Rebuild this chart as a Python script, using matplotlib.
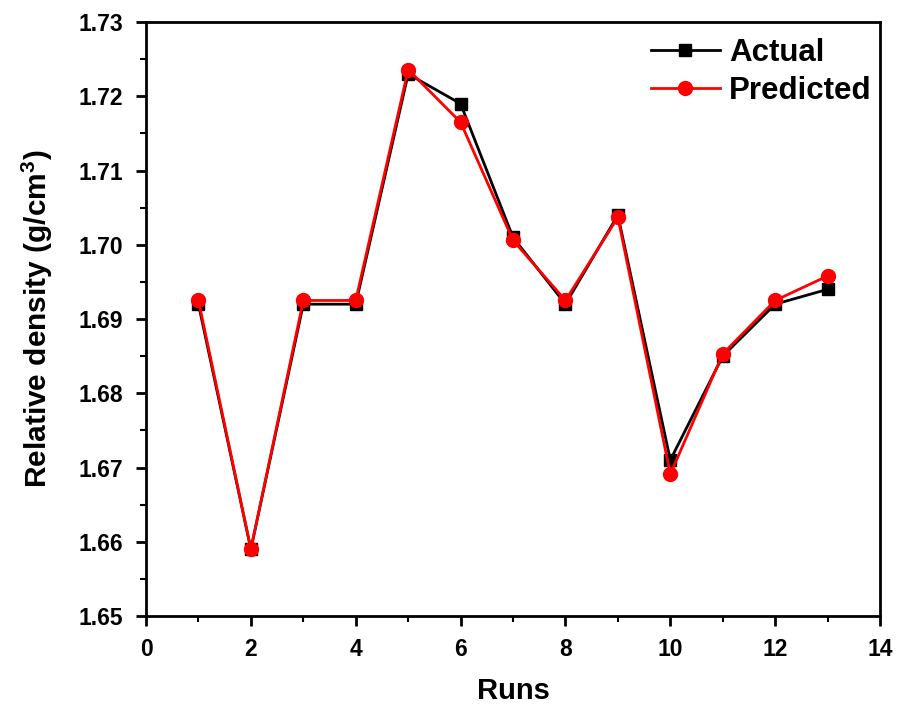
import matplotlib
matplotlib.use("Agg")
import matplotlib.pyplot as plt
from matplotlib.ticker import MultipleLocator

runs = [1, 2, 3, 4, 5, 6, 7, 8, 9, 10, 11, 12, 13]
actual = [1.692, 1.659, 1.692, 1.692, 1.723, 1.719, 1.701, 1.692, 1.704, 1.671, 1.685, 1.692, 1.694]
predicted = [1.6925, 1.659, 1.6925, 1.6925, 1.7236, 1.7165, 1.7006, 1.6925, 1.7037, 1.6691, 1.6853, 1.6925, 1.6958]

plt.rcParams['font.family'] = ['Liberation Sans', 'DejaVu Sans']
plt.rcParams['font.weight'] = 'bold'
plt.rcParams['mathtext.fontset'] = 'custom'
plt.rcParams['mathtext.bf'] = 'Liberation Sans:bold'

fig = plt.figure(figsize=(8.98, 7.11), dpi=100)
ax = fig.add_axes([0.1626, 0.1336, 0.8174, 0.8354])

ax.plot(runs, actual, color='black', lw=2, marker='s', ms=8, label='Actual')
ax.plot(runs, predicted, color='red', lw=2, marker='o', ms=10, label='Predicted')

ax.set_xlim(0, 14)
ax.set_ylim(1.65, 1.73)
ax.xaxis.set_major_locator(MultipleLocator(2))
ax.xaxis.set_minor_locator(MultipleLocator(1))
ax.yaxis.set_major_locator(MultipleLocator(0.01))
ax.yaxis.set_minor_locator(MultipleLocator(0.005))
ax.yaxis.set_major_formatter(matplotlib.ticker.FormatStrFormatter('%.2f'))

for s in ax.spines.values():
    s.set_linewidth(2)
ax.tick_params(which='major', direction='out', length=7.5, width=2, labelsize=16.5)
ax.tick_params(axis='x', which='major', pad=8)
ax.tick_params(axis='y', which='major', pad=9)
ax.tick_params(which='minor', direction='out', length=4, width=1.5)
ax.tick_params(top=False, right=False)
for lab in ax.get_xticklabels() + ax.get_yticklabels():
    lab.set_fontweight('bold')

ax.set_xlabel('Runs', fontsize=21, fontweight='bold', labelpad=12)
ax.set_ylabel('Relative density (g/cm$^\\mathbf{3}$)', fontsize=21.5, fontweight='bold', labelpad=17)

leg = ax.legend(loc='upper right', frameon=False, fontsize=22.5, handlelength=2.2,
                handletextpad=0.3, labelspacing=0.28, borderaxespad=0.1,
                bbox_to_anchor=(1.01, 1.0))
for t in leg.get_texts():
    t.set_fontweight('bold')

fig.savefig('out.png', dpi=100)
